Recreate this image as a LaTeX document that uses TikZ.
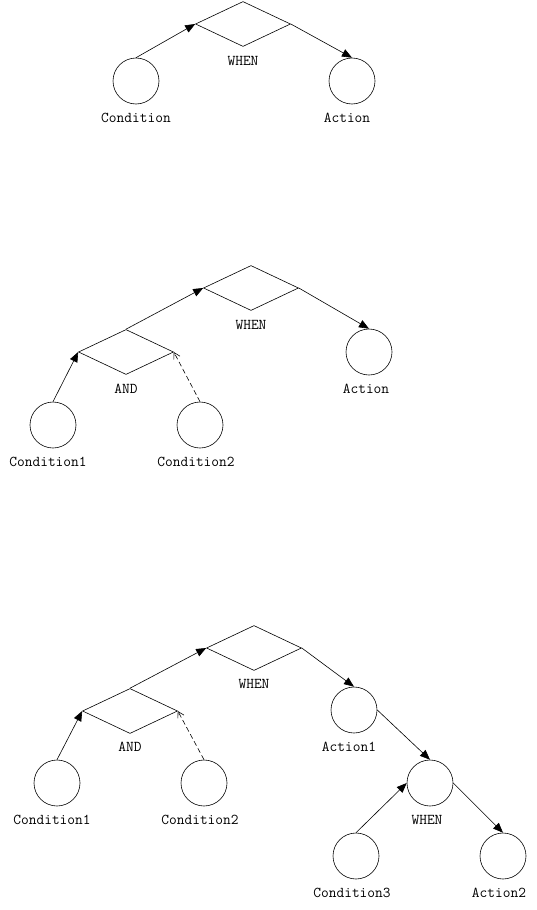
\documentclass[tikz,border=0pt]{standalone}
\usetikzlibrary{shapes.geometric,arrows.meta}

\tikzset{
	gate/.style={shape=diamond, draw, line width=0.6pt, minimum width=95pt,
		minimum height=45pt, inner sep=0pt},
	atom/.style={shape=circle, draw, line width=0.6pt, minimum size=46pt, inner sep=0pt},
	lbl/.style={font=\ttfamily\fontsize{15}{16}\selectfont, inner sep=0pt,
		text height=9pt, text depth=0pt},
	link/.style={line width=0.6pt, -{Triangle[length=10pt,width=8pt]}},
	optlink/.style={line width=0.6pt, dash pattern={on 5pt off 3pt},
		-{Straight Barb[length=6pt,width=7pt]}}
}

\begin{document}
\begin{tikzpicture}[x=1pt, y=-1pt]
	\useasboundingbox (0,0) rectangle (536,910);

	% Rule 1: single condition
	\node[gate] (W1) at (243,24){};
	\node[lbl] (W1l) at (243,61){WHEN};
	\node[atom] (C1) at (136,81){};
	\node[lbl] (C1l) at (136,118){Condition};
	\node[atom] (A1) at (352,81){};
	\node[lbl] (A1l) at (347,118){Action};
	\draw[link] (C1.north) -- (W1.west);
	\draw[link] (W1.east) -- (A1.north);

	% Rule 2: AND of two conditions
	\node[gate] (W2) at (251,288){};
	\node[lbl] (W2l) at (251,325){WHEN};
	\node[gate] (N2) at (126,352){};
	\node[lbl] (N2l) at (126,389){AND};
	\node[atom] (A2) at (369,352){};
	\node[lbl] (A2l) at (366,389){Action};
	\node[atom] (C21) at (53,425){};
	\node[lbl] (C21l) at (48,462){Condition1};
	\node[atom] (C22) at (200,425){};
	\node[lbl] (C22l) at (196,462){Condition2};
	\draw[link] (N2.north) -- (W2.west);
	\draw[link] (W2.east) -- (A2.north);
	\draw[link] (C21.north) -- (N2.west);
	\draw[optlink] (C22.north) -- (N2.east);

	% Rule 3: nested WHEN on the action side
	\node[gate] (W3) at (254,648){};
	\node[lbl] (W3l) at (254,684){WHEN};
	\node[gate] (N3) at (130,711){};
	\node[lbl] (N3l) at (130,747){AND};
	\node[atom] (A31) at (354,710){};
	\node[lbl] (A31l) at (349,747){Action1};
	\node[atom] (C31) at (57,783){};
	\node[lbl] (C31l) at (52,820){Condition1};
	\node[atom] (C32) at (204,783){};
	\node[lbl] (C32l) at (200,820){Condition2};
	\node[atom] (W33) at (430,783){};
	\node[lbl] (W33l) at (427,820){WHEN};
	\node[atom] (C33) at (356,856){};
	\node[lbl] (C33l) at (352,893){Condition3};
	\node[atom] (A32) at (503,856){};
	\node[lbl] (A32l) at (499,893){Action2};
	\draw[link] (N3.north) -- (W3.west);
	\draw[link] (W3.east) -- (A31.north);
	\draw[link] (C31.north) -- (N3.west);
	\draw[optlink] (C32.north) -- (N3.east);
	\draw[link] (A31.east) -- (W33.north);
	\draw[link] (C33.north) -- (W33.west);
	\draw[link] (W33.east) -- (A32.north);
\end{tikzpicture}
\end{document}
